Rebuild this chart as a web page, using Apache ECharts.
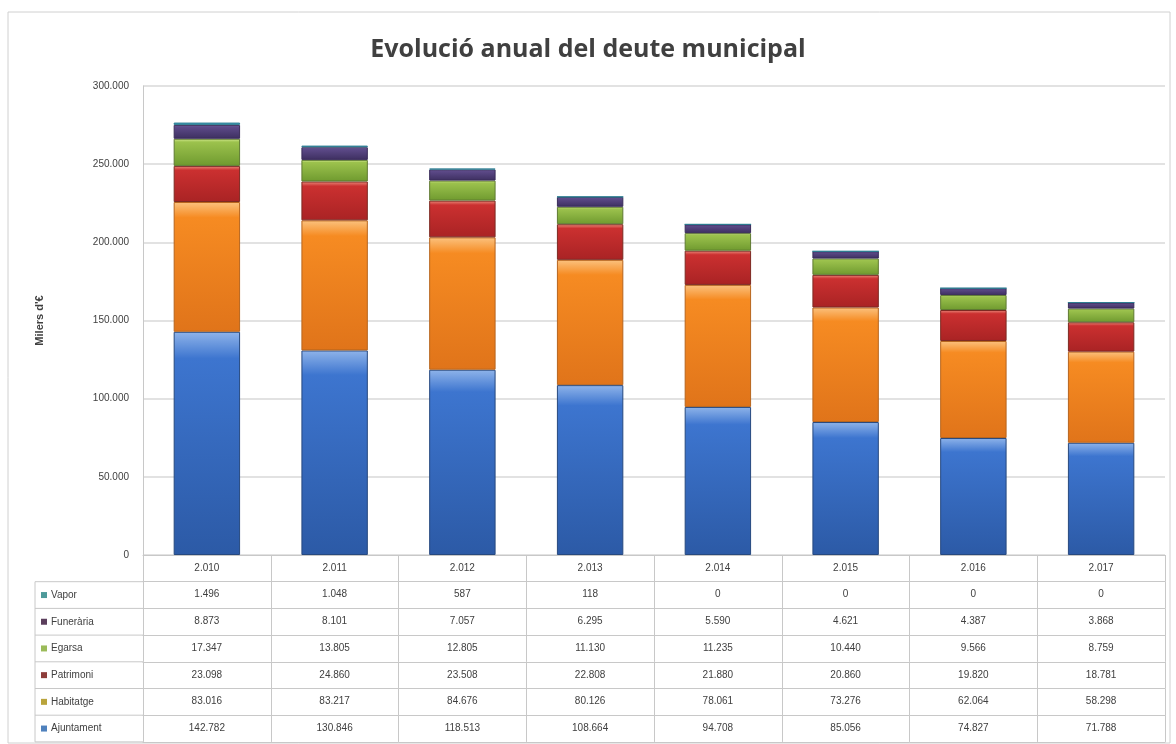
<!DOCTYPE html>
<html>
<head>
<meta charset="utf-8">
<script src="https://cdn.jsdelivr.net/npm/echarts@6/dist/echarts.min.js"></script>
<style>
  html, body { margin: 0; padding: 0; background: #fff; }
  #chart { width: 1176px; height: 744px; }
</style>
</head>
<body>
<div id="chart"></div>
<script>
// dades (milers d'euros)
const years = ['2.010', '2.011', '2.012', '2.013', '2.014', '2.015', '2.016', '2.017'];
const ajuntament = [142782, 130846, 118513, 108664, 94708, 85056, 74827, 71788];
const habitatge = [83016, 83217, 84676, 80126, 78061, 73276, 62064, 58298];
const patrimoni = [23098, 24860, 23508, 22808, 21880, 20860, 19820, 18781];
const egarsa = [17347, 13805, 12805, 11130, 11235, 10440, 9566, 8759];
const funeraria = [8873, 8101, 7057, 6295, 5590, 4621, 4387, 3868];
const vapor = [1496, 1048, 587, 118, 0, 0, 0, 0];
const yTicks = [0, 50000, 100000, 150000, 200000, 250000, 300000];

// layout
const W = 1176, H = 744;
const gridLeft = 143, gridRight = 11, gridTop = 86, gridBottom = 189;
const rowH = 26.7;
const tableLeft = 35;
const font = "'Liberation Sans', Arial, sans-serif";
const lineCol = '#c8c8c8';

function fmt(v) {
    return String(v).replace(/\B(?=(\d{3})+(?!\d))/g, '.');
}

function grad(light, main, dark) {
    return new echarts.graphic.LinearGradient(0, 0, 0, 1, [
        { offset: 0, color: light },
        { offset: 0.12, color: main },
        { offset: 1, color: dark }
    ]);
}

// stack order bottom -> top
const stack = [
    { name: 'Ajuntament', data: ajuntament, color: grad('#8fb4ea', '#3d75cf', '#2c5aa6'), border: '#27497f', mark: '#4f81bd' },
    { name: 'Habitatge', data: habitatge, color: grad('#fbc27f', '#f68b22', '#e0741a'), border: '#b7651e', mark: '#b9a43c' },
    { name: 'Patrimoni', data: patrimoni, color: grad('#ea8c7d', '#cb3030', '#a92324'), border: '#7d2a22', mark: '#8e3d3b' },
    { name: 'Egarsa', data: egarsa, color: grad('#d7ec93', '#9cc24d', '#6f9a2f'), border: '#5f7a32', mark: '#9bbb59' },
    { name: 'Funerària', data: funeraria, color: grad('#ab9fd6', '#5e4b8a', '#3d2f60'), border: '#3a2d5a', mark: '#5b3e5c' },
    { name: 'Vapor', data: vapor, color: grad('#9ad7e6', '#4bacc6', '#2f8aa3'), border: '#2d7c91', mark: '#4e9a9a' }
];

// table rows top -> bottom
const rows = stack.slice().reverse();

const xAxes = [{
    type: 'category',
    data: years,
    position: 'bottom',
    offset: 0,
    axisLine: { lineStyle: { color: lineCol } },
    axisTick: { show: true, length: rowH, lineStyle: { color: lineCol } },
    axisLabel: { margin: 8, fontSize: 10, color: '#404040', fontFamily: font }
}];
rows.forEach(function (r, i) {
    xAxes.push({
        type: 'category',
        data: years,
        position: 'bottom',
        offset: rowH * (i + 1),
        axisLine: { lineStyle: { color: lineCol } },
        axisTick: { show: true, length: rowH, lineStyle: { color: lineCol } },
        axisLabel: {
            margin: 8, fontSize: 10, color: '#404040', fontFamily: font,
            formatter: function (val, idx) { return fmt(r.data[idx]); }
        }
    });
});
// bottom border of the table
xAxes.push({
    type: 'category',
    data: years,
    position: 'bottom',
    offset: rowH * (rows.length + 1),
    axisLine: { lineStyle: { color: lineCol } },
    axisTick: { show: false },
    axisLabel: { show: false }
});

// left column of the table (series names + markers)
const graphics = [{
    type: 'rect',
    shape: { x: 8, y: 12, width: W - 14, height: H - 13 },
    style: { fill: 'none', stroke: '#d0d0d0', lineWidth: 1 },
    silent: true
}];
const tTop = H - gridBottom + rowH;
graphics.push({
    type: 'line',
    shape: { x1: tableLeft, y1: tTop, x2: tableLeft, y2: H - gridBottom + rowH * (rows.length + 1) },
    style: { stroke: lineCol, lineWidth: 1 }
});
for (let i = 0; i <= rows.length; i++) {
    graphics.push({
        type: 'line',
        shape: { x1: tableLeft, y1: tTop + rowH * i, x2: gridLeft, y2: tTop + rowH * i },
        style: { stroke: lineCol, lineWidth: 1 }
    });
}
rows.forEach(function (r, i) {
    const cy = tTop + rowH * i + rowH / 2;
    graphics.push({
        type: 'rect',
        shape: { x: tableLeft + 6, y: cy - 3, width: 6, height: 6 },
        style: { fill: r.mark }
    });
    graphics.push({
        type: 'text',
        x: tableLeft + 16, y: cy,
        style: { text: r.name, fontSize: 10, fill: '#404040', fontFamily: font, verticalAlign: 'middle' }
    });
});

const chart = echarts.init(document.getElementById('chart'), null, { renderer: 'canvas' });
chart.setOption({
    animation: false,
    backgroundColor: '#fff',
    title: {
        text: 'Evolució anual del deute municipal',
        left: 'center',
        top: 32,
        textStyle: { fontSize: 25, fontWeight: 'bold', color: '#404040', fontFamily: "'Open Sans', sans-serif" }
    },
    grid: { left: gridLeft, right: gridRight, top: gridTop, bottom: gridBottom },
    xAxis: xAxes,
    yAxis: {
        type: 'value',
        min: yTicks[0],
        max: yTicks[yTicks.length - 1],
        interval: yTicks[1] - yTicks[0],
        name: "Milers d'€",
        nameLocation: 'middle',
        nameGap: 98,
        nameRotate: 90,
        nameTextStyle: { fontSize: 11, fontWeight: 'bold', color: '#404040', fontFamily: font },
        axisLine: { show: true, lineStyle: { color: lineCol } },
        axisTick: { show: false },
        axisLabel: { fontSize: 10, color: '#404040', fontFamily: font, margin: 14, formatter: fmt },
        splitLine: { lineStyle: { color: '#d9d9d9', width: 1.5 } }
    },
    series: stack.map(function (s) {
        return {
            name: s.name,
            type: 'bar',
            stack: 'deute',
            xAxisIndex: 0,
            barWidth: '52%',
            data: s.data,
            itemStyle: { color: s.color, borderColor: s.border, borderWidth: 1 }
        };
    }),
    graphic: graphics
});
</script>
</body>
</html>
